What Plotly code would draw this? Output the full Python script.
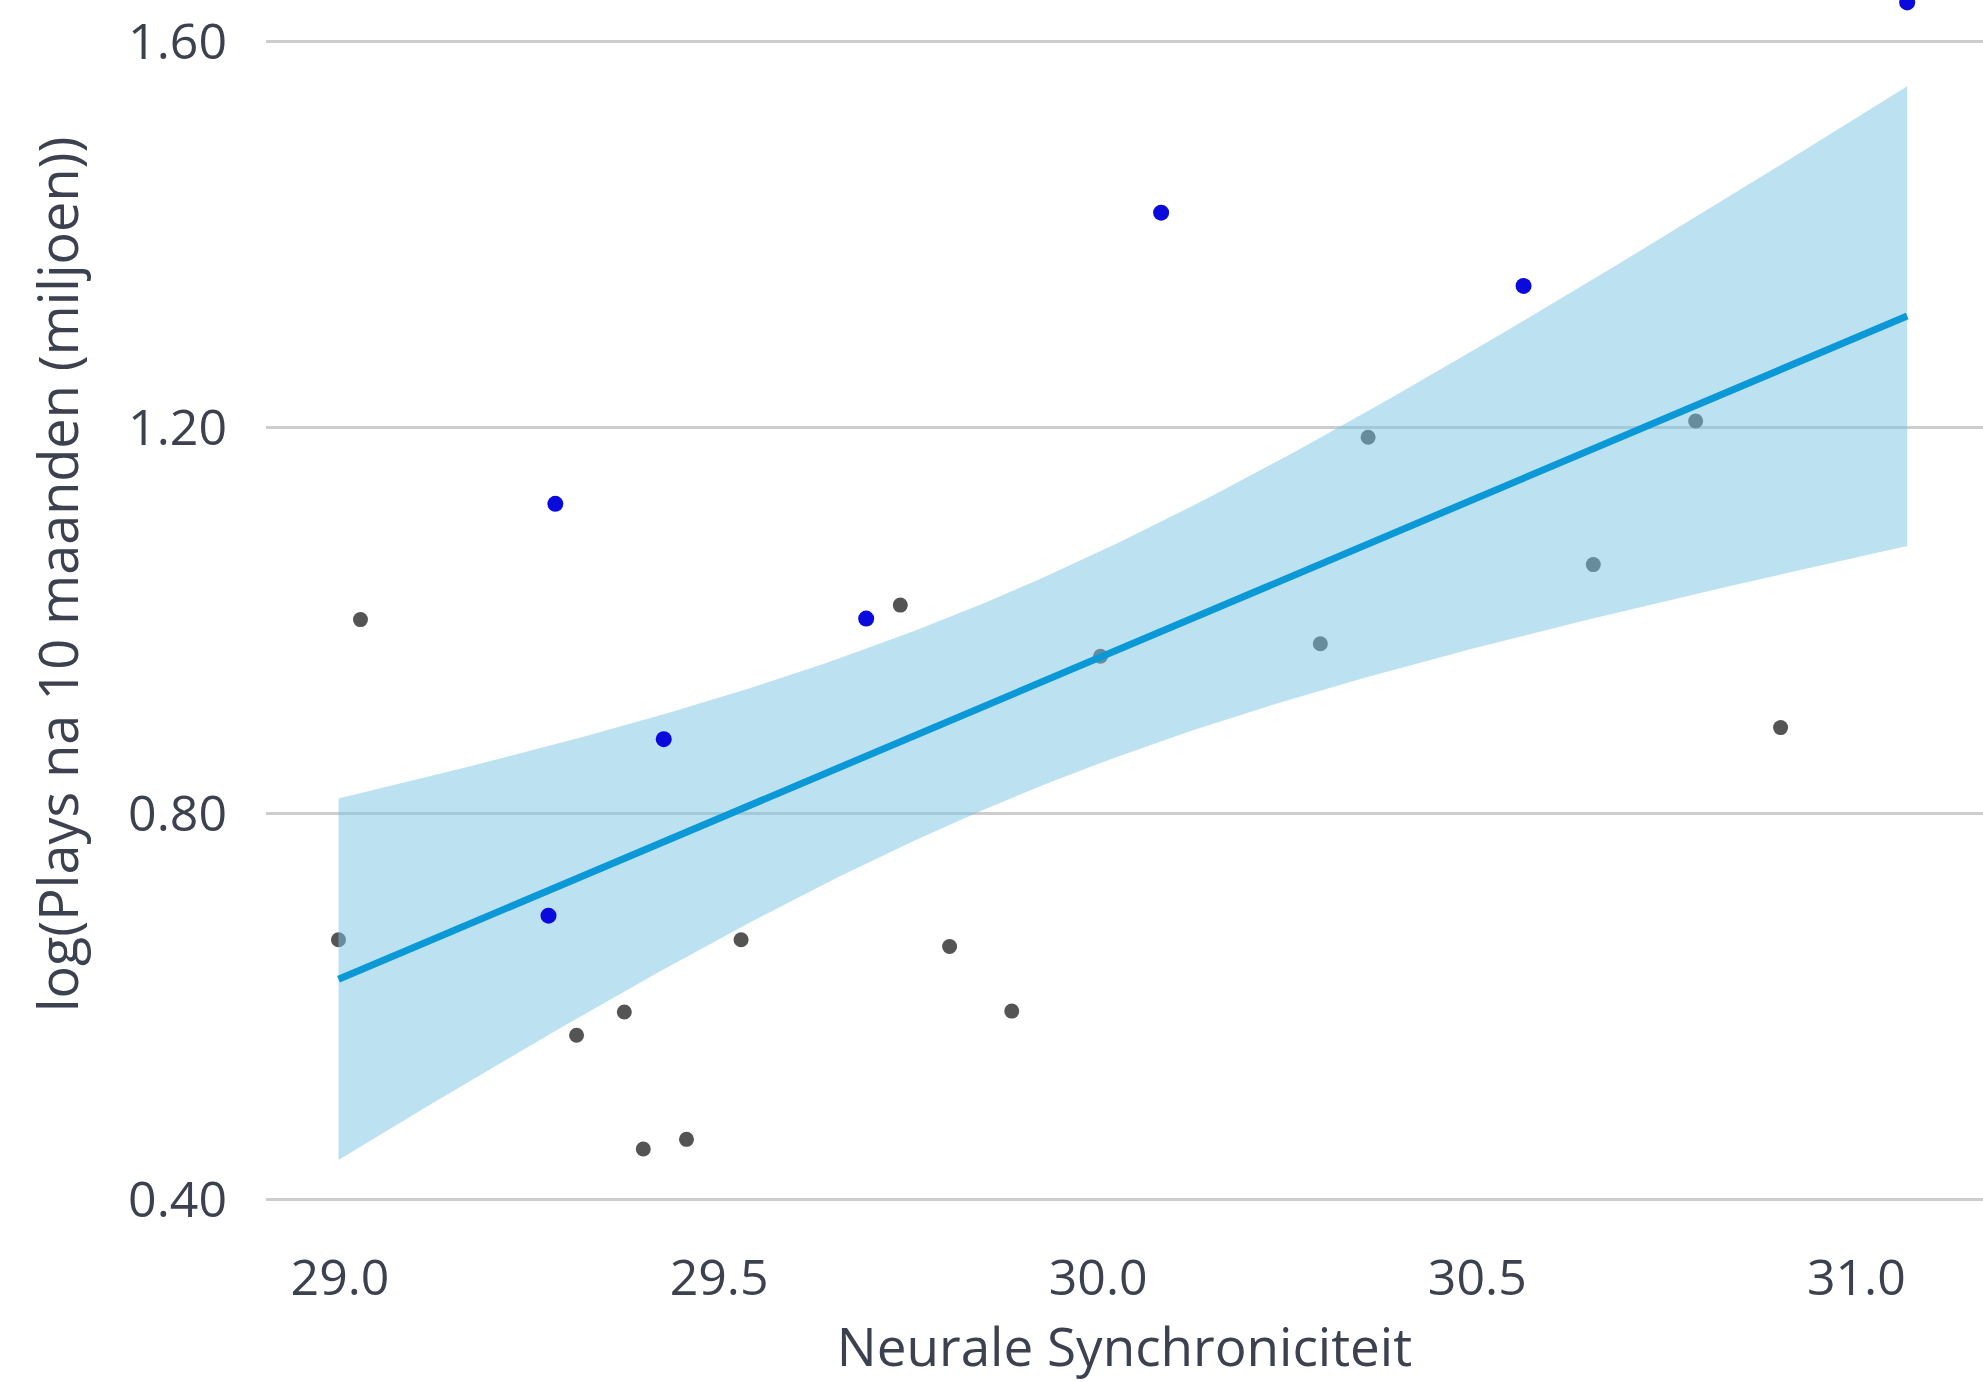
import numpy as np
import plotly.graph_objects as go

# Data
x_blue = [31.067, 30.083, 30.561, 29.284, 29.694, 29.427, 29.275]
y_blue = [1.641, 1.423, 1.347, 1.121, 1.002, 0.877, 0.694]

x_gray = [29.027, 28.998, 29.312, 29.375, 29.400, 29.457, 29.529, 29.739,
          29.804, 29.886, 30.003, 30.293, 30.356, 30.653, 30.788, 30.900]
y_gray = [1.001, 0.669, 0.570, 0.594, 0.452, 0.462, 0.669, 1.016,
          0.662, 0.595, 0.963, 0.976, 1.190, 1.058, 1.207, 0.889]

x_ticks = [29.0, 29.5, 30.0, 30.5, 31.0]
y_ticks = [0.40, 0.80, 1.20, 1.60]

# OLS fit with 95% confidence band over all points
x_all = np.array(x_blue + x_gray)
y_all = np.array(y_blue + y_gray)
n = len(x_all)
slope, intercept = np.polyfit(x_all, y_all, 1)
resid = y_all - (slope * x_all + intercept)
s = np.sqrt(np.sum(resid ** 2) / (n - 2))
sxx = np.sum((x_all - x_all.mean()) ** 2)
t_crit = 2.0796  # t(0.975, df=21)
xs = np.linspace(x_all.min(), x_all.max(), 120)
ys = slope * xs + intercept
se = s * np.sqrt(1.0 / n + (xs - x_all.mean()) ** 2 / sxx)
upper = ys + t_crit * se
lower = ys - t_crit * se

FONT = "Open Sans"
TXT = "#3c4150"

fig = go.Figure()
fig.add_trace(go.Scatter(x=x_gray, y=y_gray, mode="markers",
                         marker=dict(color="#545454", size=15), showlegend=False))
fig.add_trace(go.Scatter(x=np.concatenate([xs, xs[::-1]]),
                         y=np.concatenate([upper, lower[::-1]]),
                         fill="toself", fillcolor="rgba(121,197,229,0.5)",
                         line=dict(width=0), mode="lines", showlegend=False,
                         hoverinfo="skip"))
fig.add_trace(go.Scatter(x=xs, y=ys, mode="lines",
                         line=dict(color="#0a98d6", width=7), showlegend=False))
fig.add_trace(go.Scatter(x=x_blue, y=y_blue, mode="markers",
                         marker=dict(color="#0a0adc", size=16), showlegend=False))

fig.update_layout(
    width=1983, height=1382,
    margin=dict(l=266, r=0, t=0, b=152),
    plot_bgcolor="white", paper_bgcolor="white",
    font=dict(family=FONT, size=50, color=TXT),
    xaxis=dict(range=[28.9024, 31.167], tickvals=x_ticks, tickformat=".1f",
               showgrid=False, zeroline=False, showline=False, ticks="",
               ticklabelstandoff=14, tickfont=dict(size=50),
               title=dict(text="Neurale Synchroniciteit", font=dict(size=53, color=TXT),
                          standoff=2)),
    yaxis=dict(range=[0.368, 1.6435], tickvals=y_ticks, tickformat=".2f",
               showgrid=True, gridcolor="#cdcdcd", gridwidth=3,
               zeroline=False, showline=False, ticks="",
               ticklabelstandoff=38, tickfont=dict(size=50)),
    annotations=[dict(text="log(Plays na 10 maanden (miljoen))", textangle=-90,
                      xref="paper", yref="paper", x=-0.1217, y=0.5325,
                      xanchor="center", yanchor="middle", showarrow=False,
                      font=dict(size=54, color=TXT))],
)

fig.write_html("out.html", config={"displayModeBar": False},
               post_script="document.body.style.margin='0';")
